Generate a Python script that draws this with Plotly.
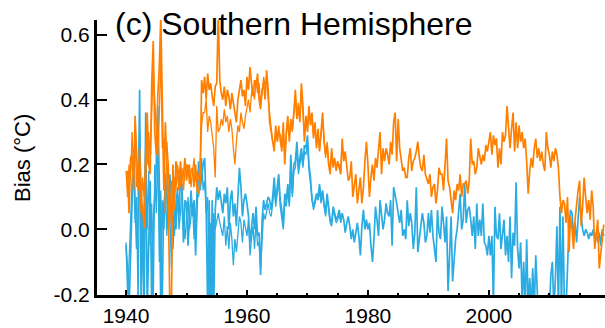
import plotly.graph_objects as go

START_YEAR = 1940.0
STEP = 0.25

orange_a = [
    0.175, 0.18, 0.05, 0.22,
    0.23, 0.12, 0.35, 0.21,
    0.12, 0.25, 0.10, 0.06,
    0.005, 0.15, 0.36, 0.20,
    0.17, 0.45, 0.58, 0.30,
    0.23, 0.41, 0.50, 0.66,
    0.36, 0.12, 0.33, 0.23,
    0.09, -0.25, -0.25, 0.20,
    0.06, 0.21, 0.18, 0.12,
    0.21, 0.15, 0.17, 0.22,
    0.15, 0.20, 0.14, 0.18,
    0.19, 0.13, 0.20, 0.12,
    0.11, 0.15, 0.46, 0.42,
    0.47, 0.40, 0.48, 0.43,
    0.45, 0.41, 0.38, 0.44,
    0.45, 0.66, 0.46, 0.42,
    0.40, 0.44, 0.38, 0.43,
    0.41, 0.37, 0.42, 0.39,
    0.36, 0.33, 0.40, 0.44,
    0.46, 0.41, 0.43, 0.38,
    0.47, 0.43, 0.50, 0.45,
    0.41, 0.46, 0.44, 0.48,
    0.40, 0.37, 0.43, 0.45,
    0.40, 0.49, 0.43, 0.33,
    0.30, 0.28, 0.24, 0.32,
    0.27, 0.30, 0.29, 0.24,
    0.33, 0.20, 0.30, 0.35,
    0.27, 0.34, 0.31, 0.36,
    0.43, 0.34, 0.38, 0.33,
    0.45, 0.38, 0.27, 0.35,
    0.30, 0.38, 0.32, 0.36,
    0.28, 0.33, 0.25, 0.31,
    0.24, 0.30, 0.36, 0.27,
    0.23, 0.26, 0.20, 0.17,
    0.25, 0.19, 0.22, 0.18,
    0.21, 0.19, 0.17, 0.28,
    0.21, 0.24, 0.19, 0.15,
    0.16, 0.21, 0.10, 0.14,
    0.17, 0.08, 0.12, 0.16,
    0.08, 0.13, 0.21, 0.27,
    0.20, 0.10, 0.16, 0.20,
    0.15, 0.22, 0.19, 0.24,
    0.30, 0.17, 0.25, 0.21,
    0.25, 0.23, 0.20, 0.27,
    0.23, 0.33, 0.36, 0.21,
    0.34, 0.25, 0.22, 0.18,
    0.19, 0.16, 0.16, 0.22,
    0.25, 0.18, 0.21, 0.22,
    0.24, 0.27, 0.22, 0.19,
    0.18, 0.23, 0.17, 0.15,
    0.14, 0.17, 0.10, 0.13,
    0.14, 0.08, 0.12, 0.19,
    0.17, 0.17, 0.12, 0.20,
    0.28, 0.15, 0.13, 0.09,
    0.05, 0.12, 0.09, 0.14,
    0.12, 0.17, 0.10, 0.14,
    0.14, 0.15, 0.11, 0.15,
    0.28, 0.20, 0.21, 0.17,
    0.19, 0.25, 0.22, 0.20,
    0.23, 0.21, 0.26, 0.24,
    0.27, 0.30, 0.23, 0.29,
    0.26, 0.28, 0.19, 0.25,
    0.20, 0.30, 0.27, 0.29,
    0.38, 0.30, 0.25, 0.31,
    0.36, 0.24, 0.33, 0.25,
    0.32, 0.27, 0.30, 0.25,
    0.28, 0.21, 0.11, 0.18,
    0.22, 0.19, 0.25, 0.28,
    0.22, 0.25, 0.21, 0.24,
    0.20, 0.18, 0.30, 0.25,
    0.23, 0.19, 0.24, 0.21,
    0.25, 0.23, 0.19, 0.10,
    0.05, 0.09, 0.08, 0.02,
    0.10, -0.07, 0.04, 0.00,
    -0.06, 0.03, 0.08, 0.12,
    0.15, 0.01, 0.07, 0.16,
    0.10, 0.05, 0.09, 0.03,
    0.12, 0.07, -0.06, -0.01,
    0.03, -0.12, -0.08, -0.04,
    0.015,
]

blue_a = [
    -0.05, -0.12, -0.25, -0.08,
    0.13, 0.25, 0.09, -0.06,
    0.05, 0.43, -0.25, 0.05,
    -0.25, 0.36, -0.25, -0.01,
    0.15, -0.25, 0.03, 0.10,
    0.20, 0.38, 0.15, -0.25,
    0.09, 0.00, 0.17, 0.10,
    0.00, 0.17, 0.05, -0.06,
    0.09, 0.00, 0.11, 0.04,
    0.19, 0.10, -0.04, 0.09,
    0.08, -0.05, 0.04, 0.12,
    0.04, 0.09, -0.08, 0.09,
    0.21, 0.12, 0.17, 0.20,
    0.22, 0.07, -0.25, 0.09,
    -0.25, 0.09, -0.25, 0.06,
    0.13, 0.09, 0.12, 0.09,
    0.05, 0.11, 0.08, 0.13,
    0.00, 0.09, 0.12, 0.04,
    0.08, 0.01, 0.10, 0.19,
    0.13, 0.04, 0.09, 0.11,
    0.08, 0.04, -0.04, 0.02,
    0.05, 0.00, 0.07, -0.02,
    -0.01, -0.14, 0.03, 0.09,
    0.06, 0.08, 0.10, 0.09,
    0.06, 0.10, 0.16, 0.09,
    0.14, 0.17, 0.09, 0.06,
    0.01, 0.11, 0.09, 0.14,
    0.08, 0.23, 0.11, 0.20,
    0.21, 0.27, 0.19, 0.22,
    0.25, 0.20, 0.26, 0.25,
    0.29, 0.20, 0.16, 0.09,
    0.07, 0.09, 0.11, 0.10,
    0.14, 0.09, 0.12, 0.08,
    0.05, 0.11, 0.06, 0.03,
    0.02, 0.07, 0.05, 0.03,
    0.04, 0.06, 0.03, 0.05,
    0.03, -0.01, 0.02, 0.04,
    0.01, -0.03, 0.00, -0.04,
    -0.01, 0.02, -0.02, -0.08,
    0.01, 0.06, 0.00, 0.03,
    0.00, 0.02, -0.05, -0.10,
    -0.03, 0.07, 0.03, -0.02,
    0.09, 0.05, 0.00, 0.03,
    0.08, 0.05, 0.04, 0.09,
    -0.05, 0.13, 0.11, 0.08,
    0.05, 0.02, 0.06, -0.02,
    0.00, -0.03, 0.09, 0.01,
    0.05, 0.02, -0.06, -0.01,
    0.13, -0.07, -0.03, 0.01,
    0.05, 0.02, -0.04, -0.02,
    0.05, -0.01, 0.06, -0.02,
    -0.06, -0.10, 0.06, -0.01,
    -0.03, 0.07, 0.02, -0.04,
    0.04, -0.19, -0.08, 0.04,
    -0.16, -0.08, -0.03, 0.00,
    0.05, 0.11, 0.00, 0.03,
    0.14, 0.02, 0.06, 0.07,
    0.03, -0.02, 0.04, -0.06,
    0.08, -0.02, 0.03, -0.02,
    0.08, -0.04, -0.05, -0.08,
    -0.02, -0.08, -0.02, -0.23,
    0.07, -0.02, -0.03, 0.05,
    -0.06, -0.02, 0.03, -0.08,
    -0.02, -0.10, 0.04, -0.15,
    -0.01, -0.05, 0.145, -0.06,
    -0.12, -0.04, -0.22, -0.10,
    -0.25, -0.03, -0.25, -0.15,
    -0.25, -0.12, -0.25, -0.08,
    -0.25, -0.30, -0.30, -0.30,
    -0.30, -0.30, -0.30, -0.20,
    -0.25, -0.14, -0.10, -0.25,
    -0.15, 0.01, -0.25, 0.07,
    -0.25, 0.04, -0.25, -0.25,
    -0.10, 0.01, 0.06, 0.05,
    -0.02, 0.02, -0.04, 0.03,
    0.10, 0.04, 0.00, -0.02,
    0.00, -0.01, -0.03, -0.01,
    -0.02, 0.00, -0.03, -0.01,
    -0.04, -0.01, -0.05, 0.00,
    -0.02,
]

orange_b = [
    0.18, 0.10, 0.20, 0.15,
    0.30, 0.20, 0.28, 0.13,
    0.20, 0.14, 0.05, 0.16,
    0.10, 0.25, 0.20, 0.30,
    0.22, 0.35, 0.50, 0.40,
    0.30, 0.22, 0.35, 0.55,
    0.25, 0.28, 0.05, 0.27,
    0.20, 0.02, 0.15, 0.10,
    0.16, 0.12, 0.20, 0.17,
    0.13, 0.19, 0.12, 0.18,
    0.20, 0.16, 0.20, 0.13,
    0.17, 0.22, 0.15, 0.18,
    0.15, 0.20, 0.32, 0.36,
    0.36, 0.40, 0.30, 0.35,
    0.33, 0.28, 0.25, 0.16,
    0.38, 0.30, 0.31, 0.34,
    0.32, 0.37, 0.33, 0.35,
    0.30, 0.34, 0.31, 0.25,
    0.20, 0.27, 0.32, 0.30,
    0.36, 0.33, 0.31, 0.35,
    0.38, 0.40, 0.36, 0.42,
    0.44, 0.40, 0.46, 0.42,
    0.45, 0.39, 0.42, 0.47,
    0.44, 0.47, 0.40, 0.36,
    0.31, 0.27, 0.26, 0.30,
    0.28, 0.32, 0.27, 0.25,
    0.31, 0.22, 0.29, 0.33,
    0.29, 0.33, 0.30, 0.37,
    0.41, 0.35, 0.39, 0.34,
    0.43, 0.36, 0.29, 0.34,
    0.31, 0.37, 0.33, 0.35,
    0.29, 0.32, 0.26, 0.30,
    0.25, 0.29, 0.34, 0.28,
    0.22, 0.27, 0.21, 0.18,
    0.24, 0.20, 0.21, 0.19,
    0.20, 0.20, 0.18, 0.27,
]

blue_b = [
    -0.04, -0.20, -0.10, 0.05,
    0.15, 0.18, 0.02, 0.10,
    -0.25, 0.30, 0.05, -0.10,
    0.10, 0.25, 0.00, 0.18,
    -0.05, 0.08, -0.25, 0.20,
    0.05, 0.25, -0.10, 0.12,
    -0.25, 0.08, 0.12, -0.02,
    0.14, 0.05, -0.12, 0.03,
    -0.02, 0.08, 0.13, 0.00,
    0.05, 0.14, 0.02, -0.03,
    0.03, 0.10, 0.00, 0.05,
    0.08, -0.03, 0.06, 0.12,
    0.10, 0.16, 0.22, 0.12,
    0.15, 0.05, 0.10, -0.25,
    0.02, -0.25, 0.05, 0.00,
    0.03, 0.05, 0.02, 0.00,
    -0.02, 0.04, -0.05, 0.01,
    -0.06, 0.02, -0.03, -0.11,
    -0.03, -0.07, 0.00, 0.04,
    0.02, -0.04, 0.03, 0.00,
    -0.02, 0.03, -0.08, -0.03,
    0.01, -0.06, 0.03, -0.05,
    -0.04, -0.12, -0.02, 0.05,
    0.03, 0.06, 0.08, 0.05,
    0.04, 0.08, 0.13, 0.07,
    0.12, 0.15, 0.07, 0.04,
    0.00, 0.09, 0.07, 0.12,
    0.07, 0.20, 0.10, 0.18,
    0.19, 0.25, 0.17, 0.20,
    0.23, 0.19, 0.24, 0.23,
    0.27, 0.18, 0.14, 0.08,
    0.06, 0.08, 0.10, 0.09,
    0.12, 0.08, 0.11, 0.07,
    0.04, 0.10, 0.05, 0.02,
    0.01, 0.06, 0.04, 0.02,
    0.03, 0.05, 0.02, 0.04,
]

y_tickvals = [-0.2, 0.0, 0.2, 0.4, 0.6]
x_tickvals = [1940, 1960, 1980, 2000]

ORANGE = "#FF8000"
BLUE = "#2AABE2"


def years_for(series):
    return [START_YEAR + STEP * i for i in range(len(series))]


fig = go.Figure()
fig.add_trace(go.Scatter(x=years_for(blue_b), y=blue_b, mode="lines",
                         line=dict(color=BLUE, width=1.3), showlegend=False))
fig.add_trace(go.Scatter(x=years_for(blue_a), y=blue_a, mode="lines",
                         line=dict(color=BLUE, width=1.7), showlegend=False))
fig.add_trace(go.Scatter(x=years_for(orange_b), y=orange_b, mode="lines",
                         line=dict(color=ORANGE, width=1.3), showlegend=False))
fig.add_trace(go.Scatter(x=years_for(orange_a), y=orange_a, mode="lines",
                         line=dict(color=ORANGE, width=1.7), showlegend=False))

FONT = "Liberation Sans, Arial, Helvetica, sans-serif"
PLOT_TOP, PLOT_BOTTOM, PLOT_LEFT, PLOT_W = 20, 295, 97, 508
PLOT_H = PLOT_BOTTOM - PLOT_TOP

fig.update_layout(
    width=605, height=328,
    margin=dict(l=97, r=0, t=20, b=33),
    paper_bgcolor="white", plot_bgcolor="white",
    font=dict(family=FONT, color="black", size=21),
    xaxis=dict(
        range=[1935.2, 2019.2],
        tickvals=x_tickvals, ticktext=[str(v) for v in x_tickvals],
        ticks="inside", ticklen=5, tickwidth=2, tickcolor="black",
        showline=True, linewidth=3, linecolor="black",
        showgrid=False, zeroline=False,
        minor=dict(dtick=5, tick0=1940, ticks="inside", ticklen=2, tickwidth=2,
                   tickcolor="black", showgrid=False),
        tickfont=dict(size=21),
    ),
    yaxis=dict(
        range=[-0.202, 0.645],
        tickvals=y_tickvals, ticktext=["%.1f" % v for v in y_tickvals],
        ticks="inside", ticklen=10, tickwidth=2, tickcolor="black",
        showline=True, linewidth=3, linecolor="black",
        showgrid=False, zeroline=False,
        tickfont=dict(size=21),
    ),
    annotations=[
        dict(text="(c) Southern Hemisphere", xref="paper", yref="paper",
             x=(113 - PLOT_LEFT) / PLOT_W, y=(PLOT_BOTTOM - 24) / PLOT_H,
             xanchor="left", yanchor="middle",
             showarrow=False, font=dict(size=32, family=FONT, color="black")),
        dict(text="Bias (°C)", xref="paper", yref="paper",
             x=(22 - PLOT_LEFT) / PLOT_W, y=(PLOT_BOTTOM - 158) / PLOT_H,
             xanchor="center", yanchor="middle",
             textangle=-90, showarrow=False,
             font=dict(size=22, family=FONT, color="black")),
    ],
)

fig.write_html("out.html", config={"displayModeBar": False},
               post_script="document.body.style.margin='0px';document.body.style.overflow='hidden';")
